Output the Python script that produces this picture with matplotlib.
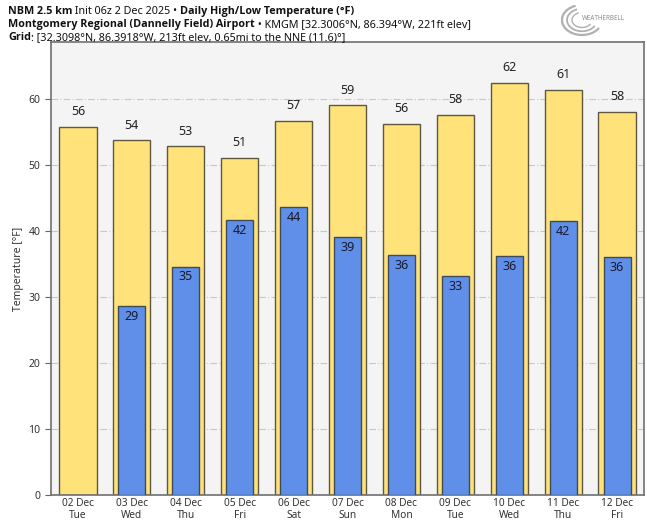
import matplotlib
matplotlib.use("Agg")
import matplotlib.pyplot as plt
from matplotlib import font_manager
from matplotlib.patches import Arc
import numpy as np

plt.rcParams['font.family'] = ['Noto Sans', 'DejaVu Sans']

dates = ["02 Dec", "03 Dec", "04 Dec", "05 Dec", "06 Dec", "07 Dec",
         "08 Dec", "09 Dec", "10 Dec", "11 Dec", "12 Dec"]
days = ["Tue", "Wed", "Thu", "Fri", "Sat", "Sun", "Mon", "Tue", "Wed", "Thu", "Fri"]
highs = [55.8, 53.7, 52.8, 51.1, 56.7, 59.0, 56.2, 57.6, 62.4, 61.4, 58.0]
lows = [np.nan, 28.6, 34.6, 41.7, 43.6, 39.0, 36.4, 33.1, 36.2, 41.5, 36.1]

def has_bold(name):
    for f in font_manager.fontManager.ttflist:
        w = f.weight if isinstance(f.weight, int) else 400
        if f.name == name and (w >= 600 or 'Bold' in f.fname):
            return True
    return False

bold_family = 'DejaVu Sans'
for cand in ['Noto Sans', 'Open Sans', 'Roboto', 'Lato', 'Liberation Sans']:
    if has_bold(cand):
        bold_family = cand
        break

fig = plt.figure(figsize=(6.47, 5.2), dpi=100)
ax = fig.add_axes([51/647, 25/520, (644-51)/647, (495-42)/520])
ax.set_facecolor('#f4f4f4')

x = np.arange(len(dates))
ax.grid(axis='y', color='#c8c8c8', linestyle=(0, (6, 2, 1, 2)), linewidth=0.8, zorder=0)
ax.set_axisbelow(True)

ax.bar(x, highs, width=0.69, color='#ffe27a', edgecolor='#5e5840', linewidth=1.0, zorder=2)
lows_arr = np.array(lows, dtype=float)
mask = ~np.isnan(lows_arr)
ax.bar(x[mask], lows_arr[mask], width=0.5, color='#5f8fe8', edgecolor='#3f4a5a', linewidth=1.0, zorder=3)

for xi, h in zip(x, highs):
    ax.text(xi, h + 1.3, f"{round(h)}", ha='center', va='bottom', fontsize=9, color='#222222', zorder=4)
for xi, l in zip(x[mask], lows_arr[mask]):
    ax.text(xi, l - 0.6, f"{round(l)}", ha='center', va='top', fontsize=9, color='#1a1a2e', zorder=4)

ax.set_xlim(-0.5, 10.5)
ax.set_ylim(0, 68.6)
ax.set_yticks([0, 10, 20, 30, 40, 50, 60])
ax.set_xticks(x)
ax.set_xticklabels([f"{d}\n{w}" for d, w in zip(dates, days)], fontsize=7.3, color='#333333',
                   linespacing=1.1)
ax.tick_params(axis='x', length=0, pad=2)
ax.tick_params(axis='y', labelsize=7.5, colors='#333333', length=4, color='#666666')
ax.set_ylabel("Temperature [°F]", fontsize=7.5, color='#333333', labelpad=3)
for s in ax.spines.values():
    s.set_color('#707070')
    s.set_linewidth(1.2)

fig.canvas.draw()
renderer = fig.canvas.get_renderer()

title_lines = [
    (1 - 14/520, [("NBM 2.5 km", True), (" Init 06z 2 Dec 2025 \u2022 ", False),
                  ("Daily High/Low Temperature (°F)", True)], 365),
    (1 - 27/520, [("Montgomery Regional (Dannelly Field) Airport", True),
                  (" \u2022 KMGM [32.3006°N, 86.394°W, 221ft elev]", False)], 432),
    (1 - 40/520, [("Grid", True),
                  (": [32.3098°N, 86.3918°W, 213ft elev, 0.65mi to the NNE (11.6)°]", False)], 298),
]

def draw_line(y, parts, size):
    arts = []
    xpos = 8 / 647
    for txt, bold in parts:
        t = fig.text(xpos, y, txt, fontsize=size,
                     fontweight='bold' if bold else 'normal',
                     family=[bold_family, 'DejaVu Sans'] if bold else ['Noto Sans', 'DejaVu Sans'],
                     color='#111111', ha='left', va='baseline')
        bb = t.get_window_extent(renderer=renderer)
        xpos += bb.width / fig.bbox.width
        arts.append(t)
    return arts, xpos * 647

measured, target = 0.0, 0.0
for y, parts, right in title_lines:
    arts, r = draw_line(y, parts, 9)
    for a in arts:
        a.remove()
    measured += r - 8
    target += right - 8
size = 9 * target / measured * 1.07
for y, parts, right in title_lines:
    draw_line(y, parts, size)

# logo approximation
fig.text(603/647, 1 - 19/520, "WEATHERBELL", fontsize=4.5, color='#8a8a8a',
         fontweight='bold', ha='center', va='center')
for r, lw in [(20, 1.6), (15, 1.3), (10, 1.0)]:
    arc = Arc((582/647, 1 - 20/520), r/647*2, r/520*2*0.75, theta1=110, theta2=330,
              transform=fig.transFigure, color='#b0b0b0', lw=lw)
    fig.add_artist(arc)

fig.savefig("out.png", dpi=100)
